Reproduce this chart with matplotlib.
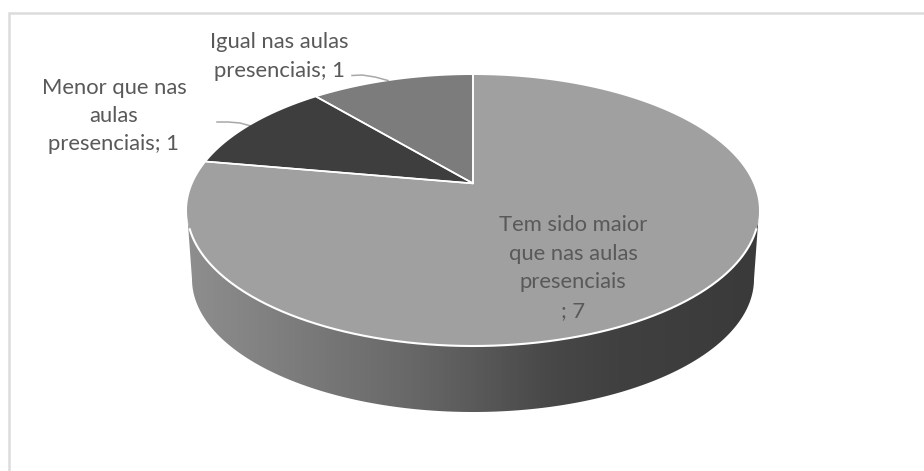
import matplotlib
matplotlib.use('Agg')
import matplotlib.pyplot as plt
from matplotlib.colors import LinearSegmentedColormap
from matplotlib.patches import Polygon
import numpy as np

labels = ['Tem sido maior\nque nas aulas\npresenciais\n', 'Menor que nas\naulas\npresenciais', 'Igual nas aulas\npresenciais']
values = [7, 1, 1]
colors = ['#a0a0a0', '#3e3e3e', '#7c7c7c']
label_pos = [(573, 268), (114, 116), (279, 56.5)]
side_x = [187, 300, 400, 470, 550, 620, 760]
side_grey = ['#8e8e8e', '#7b7b7b', '#6a6a6a', '#5b5b5b', '#484848', '#404040', '#3a3a3a']

CX, CY = 473, 210.5
RX, RY = 286, 135.5
TILT = 0.2  # perspective moves the pie centre up the ellipse
BOT_CY, BOT_RX, BOT_RY = 279, 281, 133


def project(angle_deg):
    t = np.radians(angle_deg)
    d = 1 + TILT * np.sin(t)
    x = np.cos(t) * np.sqrt(1 - TILT**2) / d
    y = (np.sin(t) + TILT) / d
    return CX + RX * x, CY - RY * y


def rim(a0, a1):
    t = np.radians(np.linspace(a0, a1, 300))
    return CX + RX * np.cos(t), CY - RY * np.sin(t)


fig = plt.figure(figsize=(9.24, 4.71), dpi=100)
ax = fig.add_axes([0, 0, 1, 1])
ax.set_axis_off()

# side wall with a left to right shade
top_x, top_y = rim(180, 360)
t = np.radians(np.linspace(180, 360, 300))
bot_x, bot_y = CX + BOT_RX * np.cos(t), BOT_CY - BOT_RY * np.sin(t)
wall = np.vstack([np.column_stack([top_x, top_y]), np.column_stack([bot_x, bot_y])[::-1]])
stops = [(x - side_x[0]) / (side_x[-1] - side_x[0]) for x in side_x]
cmap = LinearSegmentedColormap.from_list('side', list(zip(stops, side_grey)))
img = ax.imshow(np.linspace(0, 1, 400).reshape(1, -1), cmap=cmap, aspect='auto',
                extent=[side_x[0], side_x[-1], 420, 200], zorder=1)
patch = Polygon(wall, closed=True, transform=ax.transData, fc='none', ec='none')
ax.add_patch(patch)
img.set_clip_path(patch)

# top face, clockwise from twelve o'clock
ends = 90 - np.cumsum(values) / np.sum(values) * 360
starts = np.r_[90, ends[:-1]]
vx, vy = CX, CY - RY * TILT
for a0, a1, c in zip(starts, ends, colors):
    xs, ys = project(np.linspace(a0, a1, 200))
    ax.fill(np.r_[vx, xs], np.r_[vy, ys], fc=c, ec='none', zorder=2)
    ax.plot([xs[0], vx, xs[-1]], [ys[0], vy, ys[-1]], color='white', lw=1.2, zorder=2.2)

# white line only along the front of the rim
xs, ys = rim(188, 352)
ax.plot(xs, ys, color='white', lw=1.5, zorder=2.5)

# leader lines
ax.plot([352, 362, 375, 388], [75.5, 75, 77, 80.5], color='#a8a8a8', lw=1.1, zorder=1.5)
ax.plot([217, 228, 240, 251], [122, 122, 123, 126], color='#a8a8a8', lw=1.1, zorder=1.5)

for lab, v, (x, y) in zip(labels, values, label_pos):
    ax.text(x, y, lab + '; ' + str(v), ha='center', va='center', family='Lato', fontsize=15.8,
            color='#595959', linespacing=1.53, zorder=3)

# chart frame, only left and top survive the crop
ax.plot([9, 9, 924], [471, 12.5, 12.5], color='#dcdcdc', lw=1.8, solid_joinstyle='miter', zorder=0)

ax.set_xlim(0, 924)
ax.set_ylim(471, 0)
fig.savefig('out.png', dpi=100)
